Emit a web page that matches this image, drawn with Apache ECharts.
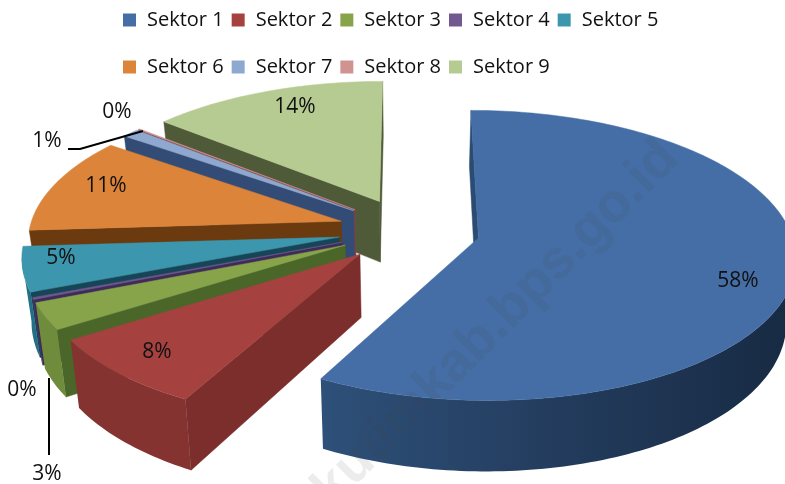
<!DOCTYPE html>
<html>
<head>
<meta charset="utf-8">
<title>Sektor</title>
<style>
html, body { margin: 0; padding: 0; background: #fff; }
#chart { width: 785px; height: 484px; }
</style>
<script src="https://cdn.jsdelivr.net/npm/echarts@6/dist/echarts.min.js"></script>
</head>
<body>
<div id="chart"></div>
<script>
// values, the two "0%" slices are thin but not empty
var sectors = ['Sektor 1', 'Sektor 2', 'Sektor 3', 'Sektor 4', 'Sektor 5', 'Sektor 6', 'Sektor 7', 'Sektor 8', 'Sektor 9'];
var shares = [58, 8, 3, 0.2, 5, 11, 1, 0.1, 14];
var legendRow1 = ['Sektor 1', 'Sektor 2', 'Sektor 3', 'Sektor 4', 'Sektor 5'];
var legendRow2 = ['Sektor 6', 'Sektor 7', 'Sektor 8', 'Sektor 9'];

var topColors = ['#446ea5', '#a5423f', '#87a44b', '#71588f', '#3c97ae', '#db843a', '#8fa8d0', '#d19392', '#b6cb91'];
var wallColors = ['#2b4b73', '#7b2e2c', '#4a6628', '#3e2c58', '#174558', '#6b3a0e', '#334c75', '#7a4444', '#4f5a38'];
var rimColors = ['#2b4b73', '#843331', '#6f8c3c', '#4a3668', '#236f85', '#8a4c18', '#5a74a0', '#a06a6a', '#7e9160'];

// label anchors, leader lines are only needed for the thin slices
var labelAt = [[738, 281], [157, 352], [47, 474], [22, 390], [61, 258], [106, 186], [47, 141], [117, 112], [295, 107]];
var leaders = { 2: [[49, 378], [49, 455]], 6: [[68, 149], [80, 149], [143, 131]] };

// fake 3D: pie lying on the ground, seen in perspective
var cx = 409, cy = 230, rx = 312, ry = 141;
var persp = 0.12, explode = 0.228, depth = 62, shrink = 0.975;

var total = 0;
shares.forEach(function (v) { total += v; });

var startAngles = [];
var sum = 0;
shares.forEach(function (v) {
	startAngles.push(sum / total * Math.PI * 2);
	sum += v;
});

function project(X, Z) {
	var s = 1 / (1 + persp * Z);
	return { x: cx + rx * X * s, y: cy - ry * Z * s, s: s };
}

function topPoint(p) {
	return [p.x, p.y];
}

function bottomPoint(p) {
	return [cx + (p.x - cx) * shrink, p.y + depth * p.s];
}

function wall(a, b, fill) {
	return {
		type: 'polygon',
		shape: { points: [topPoint(a), topPoint(b), bottomPoint(b), bottomPoint(a)] },
		style: { fill: fill, stroke: fill, lineWidth: 0.5 }
	};
}

function renderSector(i) {
	var a0 = startAngles[i];
	var a1 = a0 + shares[i] / total * Math.PI * 2;
	var mid = (a0 + a1) / 2;
	var ox = Math.sin(mid) * explode, oz = Math.cos(mid) * explode;
	var apex = project(ox, oz);
	var steps = Math.max(2, Math.ceil((a1 - a0) / 0.02));
	var arc = [];
	for (var k = 0; k <= steps; k++) {
		var t = a0 + (a1 - a0) * k / steps;
		arc.push(project(ox + Math.sin(t), oz + Math.cos(t)));
	}
	var children = [];

	// radial walls, only the ones turned to the viewer
	if (arc[0].x < apex.x) children.push(wall(apex, arc[0], wallColors[i]));
	if (apex.x < arc[steps].x) children.push(wall(arc[steps], apex, wallColors[i]));

	// outer rim, front part only
	var front = [];
	for (k = 1; k <= steps; k++) {
		if (arc[k].x < arc[k - 1].x) {
			if (!front.length) front.push(arc[k - 1]);
			front.push(arc[k]);
		}
	}
	if (front.length) {
		var pts = front.map(topPoint).concat(front.slice().reverse().map(bottomPoint));
		var rimFill = rimColors[i];
		if (i === 0) {
			rimFill = new echarts.graphic.LinearGradient(0, 0, 1, 0, [
				{ offset: 0, color: '#2e5079' },
				{ offset: 0.5, color: '#233c5d' },
				{ offset: 1, color: '#172a43' }
			]);
		}
		children.push({ type: 'polygon', shape: { points: pts }, style: { fill: rimFill } });
	}

	// top face
	var face = [topPoint(apex)].concat(arc.map(topPoint));
	children.push({
		type: 'polygon',
		shape: { points: face },
		style: { fill: topColors[i], stroke: topColors[i], lineWidth: 0.5 }
	});

	if (leaders[i]) {
		children.push({
			type: 'polyline',
			shape: { points: leaders[i] },
			style: { fill: null, stroke: '#000', lineWidth: 2 }
		});
	}

	children.push({
		type: 'text',
		x: labelAt[i][0],
		y: labelAt[i][1],
		style: {
			text: Math.round(shares[i]) + '%',
			fill: '#111',
			fontFamily: 'Open Sans',
			fontSize: 21,
			align: 'center',
			verticalAlign: 'middle'
		}
	});
	return { type: 'group', children: children };
}

var seriesList = sectors.map(function (name, i) {
	return {
		name: name,
		type: 'custom',
		coordinateSystem: 'none',
		z: 20 - i,
		silent: true,
		itemStyle: { color: topColors[i] },
		data: [shares[i]],
		renderItem: function () {
			return renderSector(i);
		}
	};
});

function legendRow(names, top) {
	return {
		data: names,
		left: 118,
		top: top,
		orient: 'horizontal',
		icon: 'rect',
		itemWidth: 13,
		itemHeight: 13,
		itemGap: 8,
		selectedMode: false,
		textStyle: { color: '#111', fontFamily: 'Open Sans', fontSize: 20, padding: [0, 0, 0, 6] }
	};
}

var myChart = echarts.init(document.getElementById('chart'), null, { renderer: 'canvas' });

var option = {
	animation: false,
	backgroundColor: '#fff',
	color: topColors,
	legend: [legendRow(legendRow1, 5), legendRow(legendRow2, 52)],
	series: seriesList,
	graphic: [{
		type: 'text',
		x: 670,
		y: 150,
		rotation: Math.PI / 4,
		z: 100,
		silent: true,
		style: {
			text: 'kutimkab.bps.go.id',
			fill: 'rgba(70,70,70,0.1)',
			fontFamily: 'Liberation Sans',
			fontWeight: 'bold',
			fontSize: 54,
			align: 'right',
			verticalAlign: 'middle'
		}
	}]
};

myChart.setOption(option);
</script>
</body>
</html>
